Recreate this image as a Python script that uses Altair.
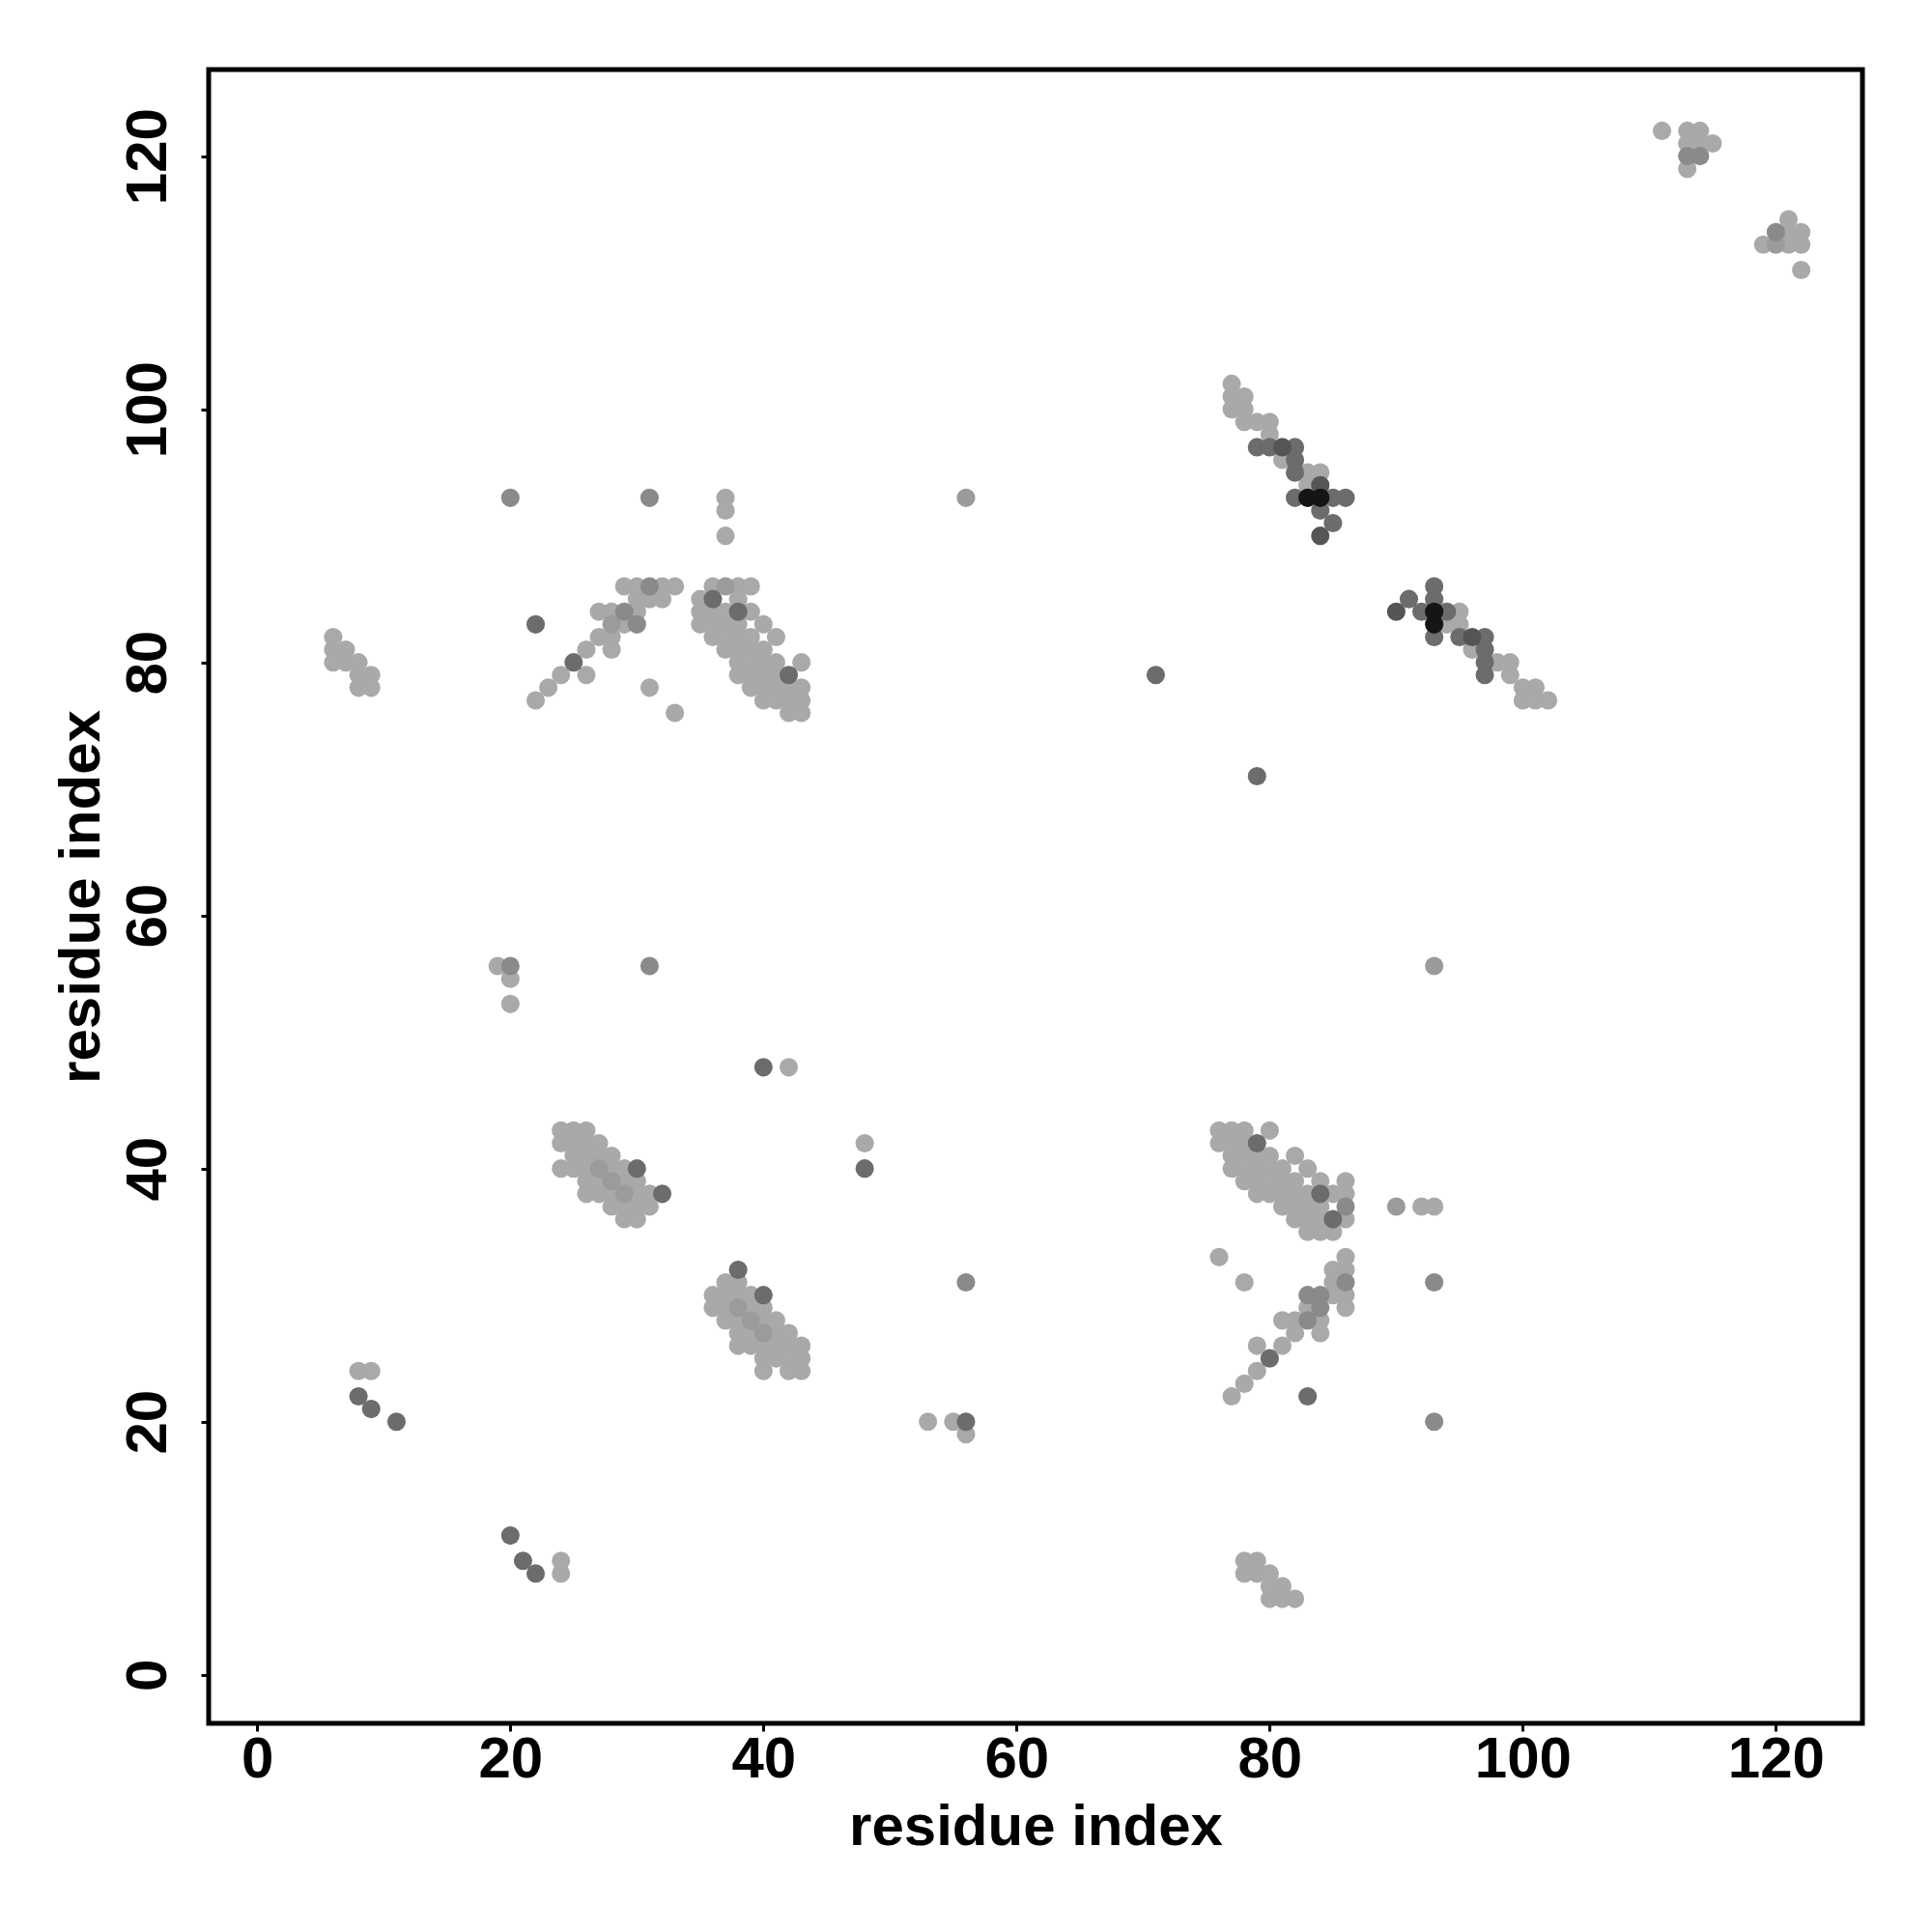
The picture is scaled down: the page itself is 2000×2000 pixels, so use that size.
import altair as alt
import pandas as pd

# contact points (x residue, y residue), grouped by grey shade
LIGHT = [
    (111, 122), (113, 122), (114, 122), (114, 121), (115, 121), (113, 119), (113, 121),
    (121, 115), (121, 114), (122, 114), (119, 113), (121, 113), (122, 113), (122, 111),
    (77, 102), (77, 101), (78, 101), (77, 100), (78, 100), (78, 99), (79, 99), (80, 99), (80, 98),
    (81, 96), (83, 95), (84, 95), (83, 94),
    (95, 84), (94, 83), (95, 83), (96, 81), (98, 80), (99, 80), (99, 79),
    (100, 78), (101, 78), (100, 77), (101, 77), (102, 77),
    (37, 93), (37, 92), (37, 90),
    (6, 82), (6, 81), (7, 81), (6, 80), (7, 80), (8, 80), (8, 79), (9, 79), (8, 78), (9, 78),
    (22, 77), (23, 78), (24, 79), (26, 79), (26, 81), (27, 82), (28, 82), (28, 81),
    (27, 84), (28, 84), (30, 84), (29, 83), (30, 85), (31, 85), (32, 85),
    (29, 86), (30, 86), (32, 86), (33, 86), (31, 78), (33, 76),
    (36, 86), (38, 86), (39, 86), (35, 85), (38, 85),
    (35, 84), (36, 84), (37, 84), (39, 84),
    (35, 83), (36, 83), (37, 83), (38, 83), (40, 83),
    (36, 82), (37, 82), (38, 82), (39, 82), (41, 82),
    (37, 81), (38, 81), (39, 81), (40, 81),
    (38, 80), (39, 80), (40, 80), (41, 80), (43, 80),
    (38, 79), (39, 79), (40, 79), (41, 79),
    (39, 78), (40, 78), (41, 78), (42, 78), (43, 78),
    (40, 77), (41, 77), (42, 77), (43, 77), (42, 76), (43, 76),
    (19, 56), (20, 55), (20, 53), (42, 48), (48, 42),
    (24, 43), (25, 43), (26, 43), (24, 42), (25, 42), (26, 42), (27, 42),
    (25, 41), (26, 41), (27, 41), (28, 41),
    (24, 40), (25, 40), (26, 40), (27, 40), (28, 40), (29, 40),
    (26, 39), (27, 39), (28, 39), (29, 39), (30, 39),
    (26, 38), (27, 38), (28, 38), (29, 38), (30, 38), (31, 38),
    (28, 37), (29, 37), (30, 37), (31, 37), (29, 36), (30, 36),
    (37, 31), (38, 31), (36, 30), (37, 30), (38, 30), (39, 30),
    (36, 29), (37, 29), (38, 29), (39, 29), (40, 29),
    (37, 28), (38, 28), (39, 28), (40, 28), (41, 28),
    (38, 27), (39, 27), (40, 27), (41, 27), (42, 27),
    (38, 26), (39, 26), (40, 26), (41, 26), (42, 26), (43, 26),
    (40, 25), (41, 25), (42, 25), (43, 25), (40, 24), (42, 24), (43, 24),
    (76, 43), (77, 43), (78, 43), (80, 43), (76, 42), (77, 42), (78, 42),
    (77, 41), (78, 41), (79, 41), (80, 41), (82, 41),
    (77, 40), (78, 40), (79, 40), (80, 40), (81, 40), (83, 40),
    (78, 39), (79, 39), (80, 39), (81, 39), (82, 39), (84, 39), (86, 39),
    (79, 38), (80, 38), (81, 38), (82, 38), (83, 38), (85, 38), (86, 38),
    (81, 37), (82, 37), (83, 37), (84, 37),
    (82, 36), (83, 36), (84, 36), (86, 36), (83, 35), (84, 35), (85, 35),
    (92, 37), (93, 37), (76, 33), (78, 31),
    (86, 33), (85, 32), (86, 32), (85, 31), (85, 30), (86, 30), (83, 29), (86, 29),
    (81, 28), (82, 28), (84, 28), (82, 27), (84, 27), (79, 26), (81, 26),
    (79, 24), (78, 23), (77, 22),
    (8, 24), (9, 24), (24, 9), (24, 8),
    (53, 20), (55, 20), (56, 19),
    (78, 9), (79, 9), (78, 8), (79, 8), (80, 8), (80, 7), (81, 7), (80, 6), (81, 6), (82, 6),
]
LIGHT_MID = [
    (37, 86), (28, 83), (120, 113), (56, 93), (93, 56), (90, 37),
    (27, 40), (28, 39), (29, 38), (38, 29), (39, 28), (40, 27),
]
MID = [
    (113, 120), (114, 120), (120, 114),
    (20, 93), (31, 93), (29, 84), (30, 83), (31, 86),
    (20, 56), (31, 56), (56, 31), (86, 37), (86, 31), (83, 30), (84, 30), (84, 29), (83, 28),
    (93, 31), (93, 20),
]
DARK = [
    (79, 97), (80, 97), (82, 97), (82, 96), (82, 95), (82, 93), (85, 93), (86, 93), (84, 92), (85, 91),
    (93, 86), (91, 85), (93, 85), (92, 84), (94, 84), (93, 82), (95, 82), (97, 82),
    (97, 81), (97, 80), (97, 79),
    (22, 83), (25, 80), (36, 85), (38, 84), (42, 79),
    (71, 79), (79, 71), (40, 48), (48, 40),
    (30, 40), (32, 38), (38, 32), (40, 30),
    (79, 42), (84, 38), (85, 36), (80, 25), (83, 22),
    (8, 22), (9, 21), (11, 20), (20, 11), (21, 9), (22, 8), (56, 20),
]
DARKER = [
    (81, 97), (84, 94), (84, 90), (90, 84), (96, 82),
]
BLACK = [
    (83, 93), (84, 93), (93, 84), (93, 83),
]

SHADES = ["L", "LM", "M", "D", "K", "B"]
GREYS = ["#a9a9a9", "#9b9b9b", "#8a8a8a", "#6c6c6c", "#555555", "#151515"]
TICKS = [0, 20, 40, 60, 80, 100, 120]
DOMAIN = [-3.84, 126.84]

rows = []
for rank, (shade, pts) in enumerate(zip(SHADES, [LIGHT, LIGHT_MID, MID, DARK, DARKER, BLACK])):
    for (x, y) in pts:
        rows.append({"x": x, "y": y, "shade": shade, "rank": rank})
df = pd.DataFrame(rows)

FONT = "Liberation Sans"

chart = alt.Chart(df).mark_circle(size=365, opacity=1).encode(
    x=alt.X("x:Q", scale=alt.Scale(domain=DOMAIN, nice=False, zero=False),
            axis=alt.Axis(values=TICKS, title="residue index", grid=False, domain=False,
                          tickSize=8, tickWidth=3, tickColor="black",
                          labelFont=FONT, labelFontSize=60, labelFontWeight="bold",
                          labelColor="black", labelPadding=0, labelFlush=False,
                          titleFont=FONT, titleFontSize=60, titleFontWeight="bold",
                          titleColor="black", titleX=856, titleY=125,
                          titleAlign="center", titleBaseline="alphabetic")),
    y=alt.Y("y:Q", scale=alt.Scale(domain=DOMAIN, nice=False, zero=False),
            axis=alt.Axis(values=TICKS, title="residue index", grid=False, domain=False,
                          tickSize=8, tickWidth=3, tickColor="black",
                          labelFont=FONT, labelFontSize=60, labelFontWeight="bold",
                          labelColor="black", labelAngle=270, labelAlign="center",
                          labelBaseline="bottom", labelPadding=24, labelFlush=False,
                          titleFont=FONT, titleFontSize=60, titleFontWeight="bold",
                          titleColor="black", titleX=-114, titleY=856, titleAngle=270,
                          titleAlign="center", titleBaseline="alphabetic")),
    color=alt.Color("shade:N", scale=alt.Scale(domain=SHADES, range=GREYS), legend=None),
    order=alt.Order("rank:Q"),
).properties(
    width=1712, height=1712,
    background="white",
    autosize=alt.AutoSizeParams(type="none"),
    padding={"left": 208, "top": 64, "right": 60, "bottom": 200},
).configure_view(
    stroke="black", strokeWidth=5
)

chart.save("out.html", embed_options={"renderer": "svg", "actions": False})
